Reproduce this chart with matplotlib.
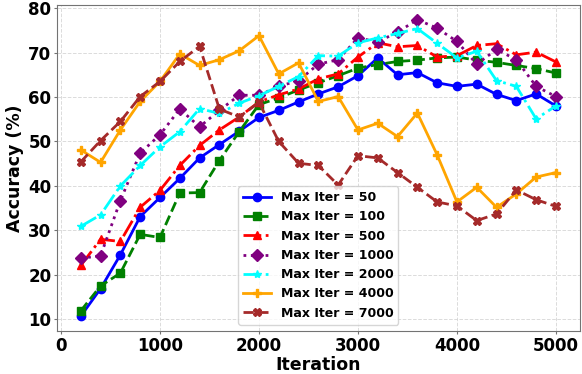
import matplotlib
matplotlib.use("Agg")
import matplotlib.pyplot as plt

# iterations at which accuracy was recorded
iterations = [200, 400, 600, 800, 1000, 1200, 1400, 1600, 1800, 2000,
              2200, 2400, 2600, 2800, 3000, 3200, 3400, 3600, 3800, 4000,
              4200, 4400, 4600, 4800, 5000]

acc_50 = [10.7, 16.9, 24.5, 33.1, 37.4, 41.7, 46.3, 49.3, 52.3, 55.4,
          57.0, 58.9, 60.7, 62.3, 64.8, 68.8, 65.0, 65.5, 63.2, 62.4,
          62.9, 60.6, 59.2, 60.7, 58.0]
acc_100 = [11.9, 17.5, 20.4, 29.1, 28.4, 38.4, 38.5, 45.7, 52.2, 58.3,
           59.8, 61.6, 63.2, 64.8, 66.5, 67.3, 68.0, 68.3, 68.8, 69.0,
           68.3, 67.8, 67.1, 66.4, 65.4]
acc_500 = [22.1, 28.0, 27.5, 35.2, 39.0, 44.6, 49.1, 52.6, 55.5, 58.9,
           60.5, 61.8, 64.1, 65.2, 69.0, 72.2, 71.3, 71.6, 69.0, 69.3,
           71.6, 72.0, 69.5, 70.1, 67.9]
acc_1000 = [23.7, 24.3, 36.7, 47.4, 51.5, 57.3, 53.3, 57.0, 60.4, 60.4,
            62.4, 63.7, 67.4, 68.4, 73.3, 72.4, 74.6, 77.4, 75.5, 72.5,
            67.4, 70.7, 68.4, 62.4, 60.1]
acc_2000 = [30.9, 33.5, 40.0, 44.6, 48.8, 52.2, 57.4, 56.3, 58.6, 60.3,
            62.4, 64.6, 69.3, 69.2, 72.2, 73.3, 74.3, 75.4, 72.1, 68.8,
            70.3, 63.7, 62.4, 55.1, 58.0]
acc_4000 = [48.1, 45.3, 52.6, 59.0, 63.5, 69.7, 67.1, 68.4, 70.4, 73.8,
            65.2, 67.7, 59.0, 60.1, 52.6, 54.1, 51.1, 56.4, 47.0, 36.4,
            39.7, 35.2, 38.2, 42.0, 43.0]
acc_7000 = [45.4, 50.2, 54.5, 60.1, 63.5, 68.0, 71.4, 57.3, 55.5, 58.8,
            50.0, 45.1, 44.6, 40.2, 46.8, 46.3, 43.0, 39.7, 36.4, 35.5,
            32.2, 33.7, 39.1, 36.9, 35.4]

series = [
    ("Max Iter = 50", acc_50, "blue", "-", "o"),
    ("Max Iter = 100", acc_100, "green", "--", "s"),
    ("Max Iter = 500", acc_500, "red", "-.", "^"),
    ("Max Iter = 1000", acc_1000, "purple", ":", "D"),
    ("Max Iter = 2000", acc_2000, "cyan", "-.", "*"),
    ("Max Iter = 4000", acc_4000, "orange", "-", "P"),
    ("Max Iter = 7000", acc_7000, "brown", "--", "X"),
]

fig, ax = plt.subplots(figsize=(5.82, 3.74), dpi=100)
fig.subplots_adjust(left=0.098, right=0.996, top=0.987, bottom=0.115)

for label, values, color, ls, marker in series:
    ax.plot(iterations, values, color=color, linestyle=ls, marker=marker,
            linewidth=2, markersize=6, label=label)

ax.set_xlabel("Iteration", fontsize=12.5, fontweight="bold", labelpad=1)
ax.set_ylabel("Accuracy (%)", fontsize=12.5, fontweight="bold", labelpad=3)
ax.set_xticks([0, 1000, 2000, 3000, 4000, 5000])
ax.set_yticks([10, 20, 30, 40, 50, 60, 70, 80])
ax.tick_params(length=2, pad=2, color="0.45")
for lbl in ax.get_xticklabels() + ax.get_yticklabels():
    lbl.set_fontsize(12)
    lbl.set_fontweight("bold")

ax.grid(True, linestyle="--", color="lightgray", alpha=0.8, linewidth=0.7)
for spine in ax.spines.values():
    spine.set_color("0.45")

leg = ax.legend(loc="lower center", prop={"size": 9, "weight": "bold"},
                handlelength=2.2)

fig.savefig("out.png", dpi=100)
